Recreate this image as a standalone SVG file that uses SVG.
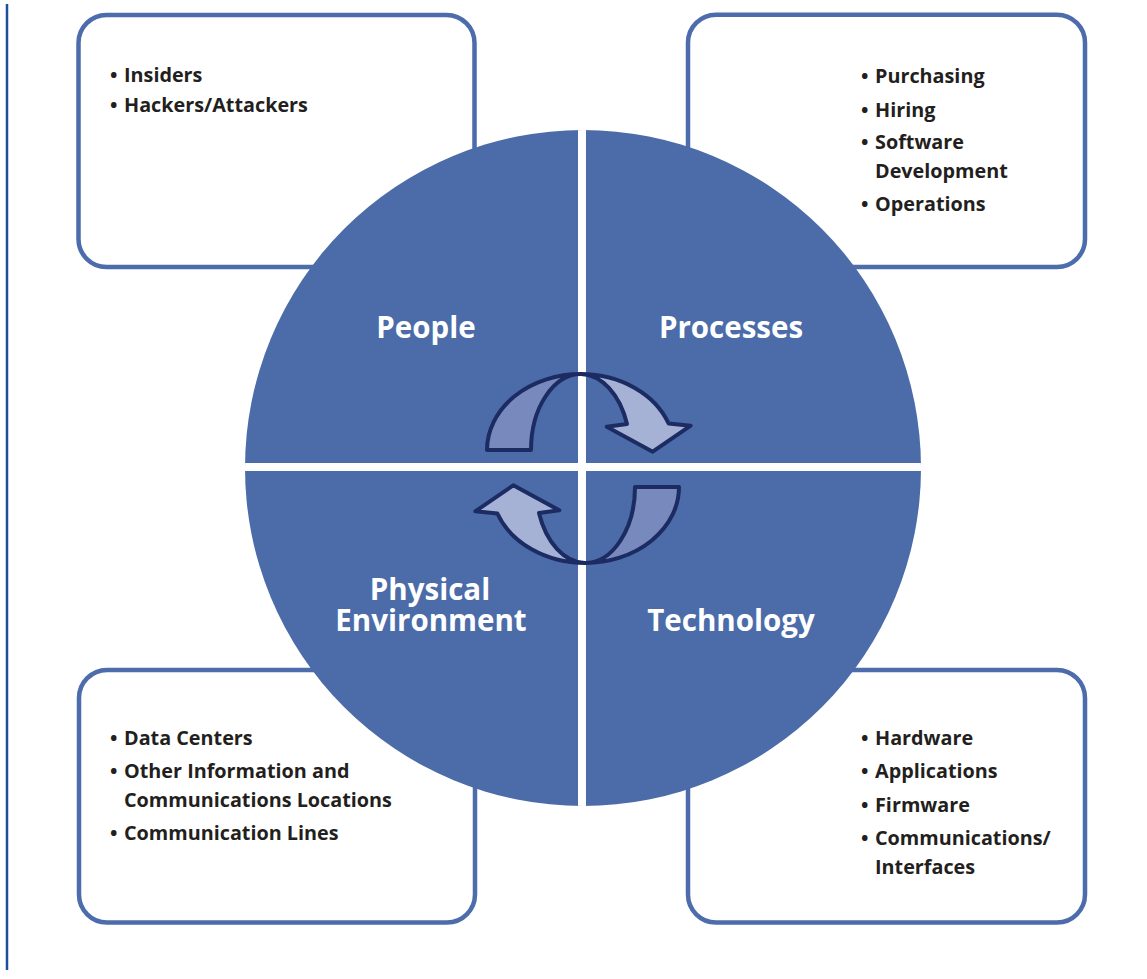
<svg xmlns="http://www.w3.org/2000/svg" width="1147" height="979" viewBox="0 0 1147 979">
<style>
.box{fill:#fff;stroke:#4d6cab;stroke-width:4.5}
.item{font-family:"Open Sans","Liberation Sans",sans-serif;font-weight:700;font-size:19.8px;fill:#231f20}
.lbl{font-family:"Open Sans","Liberation Sans",sans-serif;font-weight:700;font-size:29.5px;fill:#fff;text-anchor:middle}
.quad{fill:#4b6ca8}
.ar{stroke:#1c2c62;stroke-width:4;stroke-linejoin:round}
.dk{fill:#7889be}
.lt{fill:#a5b2d6}
</style>
<defs>
<clipPath id="cc"><circle cx="583" cy="468" r="338"/></clipPath>
<g id="arrow">
<path class="ar dk" d="M487,450 A94,76 0 0 1 581,374 A50,76 0 0 0 531,450 Z"/>
<path class="ar lt" d="M581,374 A94,76 0 0 1 668.6,423.5 L690.7,425.7 L652.7,451.7 L606.7,426.7 L627,424 A50,76 0 0 0 581,374 Z"/>
</g>
</defs>
<rect width="1147" height="979" fill="#fff"/>
<line x1="7" y1="4" x2="7" y2="970" stroke="#1d4f9c" stroke-width="2.5"/>

<g id="box-people">
<rect class="box" x="78.5" y="15" width="396" height="252" rx="28"/>
<text class="item" x="110" y="82">•</text><text class="item" x="124" y="82">Insiders</text>
<text class="item" x="110" y="112">•</text><text class="item" x="124" y="112">Hackers/Attackers</text>
</g>
<g id="box-processes">
<rect class="box" x="688" y="14.7" width="397" height="252.3" rx="28"/>
<text class="item" x="861" y="83">•</text><text class="item" x="875" y="83">Purchasing</text>
<text class="item" x="861" y="117">•</text><text class="item" x="875" y="117">Hiring</text>
<text class="item" x="861" y="149">•</text><text class="item" x="875" y="149">Software</text>
<text class="item" x="875" y="178">Development</text>
<text class="item" x="861" y="211">•</text><text class="item" x="875" y="211">Operations</text>
</g>
<g id="box-physical">
<rect class="box" x="79" y="670" width="396" height="252.5" rx="28"/>
<text class="item" x="110" y="745">•</text><text class="item" x="124" y="745">Data Centers</text>
<text class="item" x="110" y="778">•</text><text class="item" x="124" y="778">Other Information and</text>
<text class="item" x="124" y="807">Communications Locations</text>
<text class="item" x="110" y="840">•</text><text class="item" x="124" y="840">Communication Lines</text>
</g>
<g id="box-technology">
<rect class="box" x="688" y="670" width="397" height="252.5" rx="28"/>
<text class="item" x="861" y="745">•</text><text class="item" x="875" y="745">Hardware</text>
<text class="item" x="861" y="778">•</text><text class="item" x="875" y="778">Applications</text>
<text class="item" x="861" y="812">•</text><text class="item" x="875" y="812">Firmware</text>
<text class="item" x="861" y="845">•</text><text class="item" x="875" y="845">Communications/</text>
<text class="item" x="875" y="874">Interfaces</text>
</g>

<g id="circle">
<circle class="quad" cx="583" cy="468" r="338"/>
<g clip-path="url(#cc)" fill="#fff">
<rect x="578" y="120" width="8" height="700"/>
<rect x="235" y="463" width="700" height="8"/>
</g>
</g>
<g id="q-people"><text class="lbl" x="426" y="338">People</text></g>
<g id="q-processes"><text class="lbl" x="731" y="338">Processes</text></g>
<g id="q-physical"><text class="lbl"><tspan x="430" y="600">Physical</tspan><tspan x="431" y="631">Environment</tspan></text></g>
<g id="q-technology"><text class="lbl" x="731" y="631">Technology</text></g>

<g id="connectors">
<use href="#arrow"/>
<use href="#arrow" transform="rotate(180 583 468.5)"/>
</g>
</svg>
